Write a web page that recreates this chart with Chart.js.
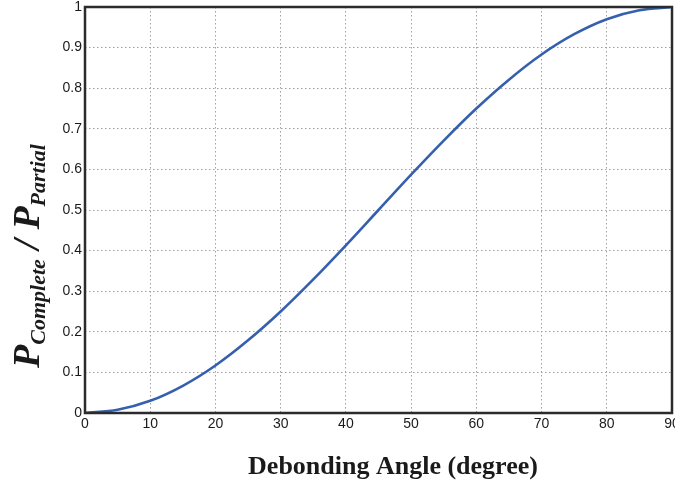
<!DOCTYPE html>
<html>
<head>
<meta charset="utf-8">
<script src="https://cdn.jsdelivr.net/npm/chart.js@4"></script>
<style>
  html, body { margin: 0; padding: 0; background: #fff; }
  #wrap { width: 675px; height: 489px; }
</style>
</head>
<body>
<div id="wrap"><canvas id="c" width="675" height="489"></canvas></div>
<script>
// debonding angle in degrees, and the load ratio
const angles = [0, 5, 10, 15, 20, 25, 30, 35, 40, 45, 50, 55, 60, 65, 70, 75, 80, 85, 90];
const ratio = [0, 0.008, 0.03, 0.067, 0.117, 0.179, 0.25, 0.329, 0.413, 0.5, 0.587, 0.671, 0.75, 0.821, 0.883, 0.933, 0.97, 0.992, 1];
const xTicks = [0, 10, 20, 30, 40, 50, 60, 70, 80, 90];
const yTicks = [0, 0.1, 0.2, 0.3, 0.4, 0.5, 0.6, 0.7, 0.8, 0.9, 1];

const xTitle = 'Debonding Angle (degree)';
const yTitleParts = [
  { text: 'P', sub: false },
  { text: 'Complete', sub: true },
  { text: ' / ', sub: false },
  { text: 'P', sub: false },
  { text: 'Partial', sub: true },
];

const LINE_BLUE = '#3560ad';
const FRAME = '#2b2b2b';
const GRID = '#a0a0a0';

// frame on all four sides plus the two axis titles
const decorations = {
  id: 'decorations',
  afterDraw(chart) {
    const { ctx, chartArea: a } = chart;
    ctx.save();
    ctx.strokeStyle = FRAME;
    ctx.lineWidth = 2.5;
    ctx.strokeRect(a.left, a.top, a.right - a.left, a.bottom - a.top);

    // x title
    ctx.fillStyle = '#1a1a1a';
    ctx.font = 'bold 26px "Liberation Serif", "Times New Roman", serif';
    ctx.textAlign = 'center';
    ctx.textBaseline = 'alphabetic';
    ctx.fillText(xTitle, 393, 474);

    // y title, rotated, with subscripts
    const big = 'italic bold 38px "Liberation Serif", "Times New Roman", serif';
    const small = 'italic bold 22px "Liberation Serif", "Times New Roman", serif';
    let total = 0;
    yTitleParts.forEach(p => {
      ctx.font = p.sub ? small : big;
      p.w = ctx.measureText(p.text).width;
      total += p.w;
    });
    ctx.translate(39, 256);
    ctx.rotate(-Math.PI / 2);
    ctx.textAlign = 'left';
    let x = -total / 2;
    yTitleParts.forEach(p => {
      ctx.font = p.sub ? small : big;
      ctx.fillText(p.text, x, p.sub ? 6 : 0);
      x += p.w;
    });
    ctx.restore();
  }
};

const tickFont = { family: 'Liberation Sans, Arial, sans-serif', size: 14 };

new Chart(document.getElementById('c'), {
  type: 'line',
  data: {
    datasets: [{
      data: angles.map((a, i) => ({ x: a, y: ratio[i] })),
      borderColor: LINE_BLUE,
      borderWidth: 2.6,
      pointRadius: 0,
      cubicInterpolationMode: 'monotone',
      fill: false,
    }],
  },
  options: {
    responsive: false,
    animation: false,
    layout: { padding: { top: 7, right: 3, left: 0, bottom: 0 } },
    plugins: { legend: { display: false }, tooltip: { enabled: false } },
    scales: {
      x: {
        type: 'linear',
        min: 0,
        max: 90,
        afterBuildTicks: s => { s.ticks = xTicks.map(v => ({ value: v })); },
        afterFit: s => { s.height = 76; s.paddingLeft = 0; s.paddingRight = 0; },
        ticks: { font: tickFont, color: '#1a1a1a', padding: 3, maxRotation: 0 },
        grid: { color: GRID, lineWidth: 1, drawTicks: false },
        border: { display: false, dash: [1.5, 2.5] },
      },
      y: {
        min: 0,
        max: 1,
        afterBuildTicks: s => { s.ticks = yTicks.map(v => ({ value: v })); },
        afterFit: s => { s.width = 85; s.paddingTop = 0; s.paddingBottom = 0; },
        ticks: { font: tickFont, color: '#1a1a1a', padding: 3, callback: v => String(Math.round(v * 10) / 10) },
        grid: { color: GRID, lineWidth: 1, drawTicks: false },
        border: { display: false, dash: [1.5, 2.5] },
      },
    },
  },
  plugins: [decorations],
});
</script>
</body>
</html>
